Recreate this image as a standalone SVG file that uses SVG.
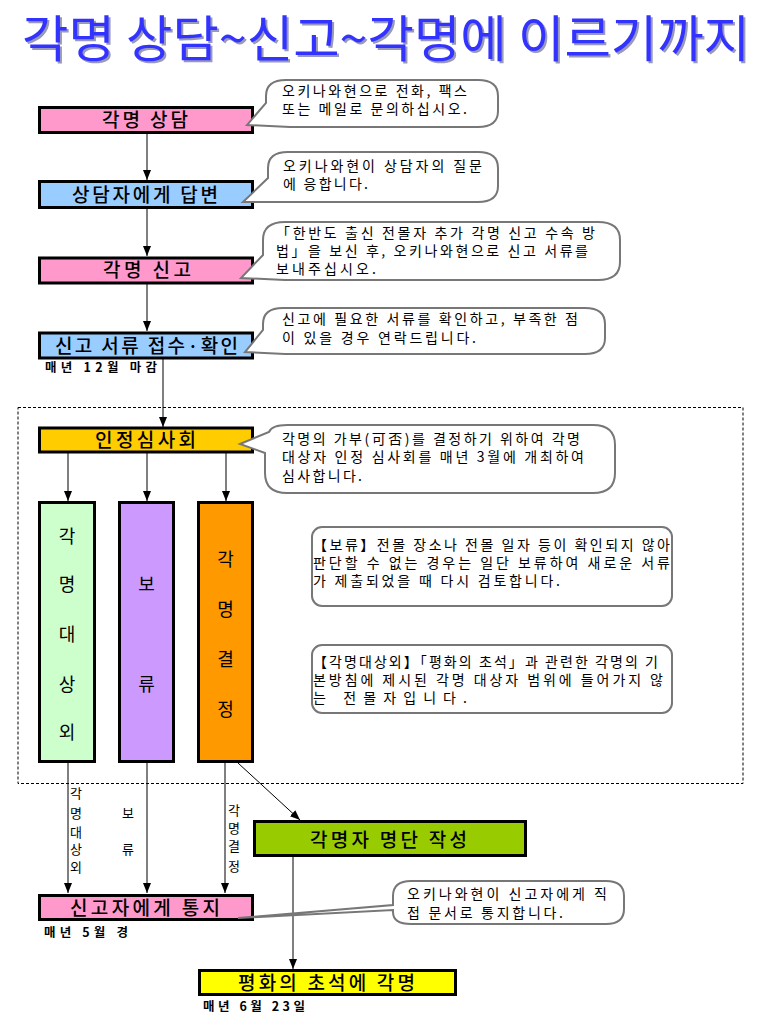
<svg xmlns="http://www.w3.org/2000/svg" width="781" height="1033" viewBox="0 0 781 1033">
<style>
.bx{stroke:#000;stroke-width:3}
.bt{font-family:"Noto Sans CJK KR","Liberation Sans",sans-serif;font-size:19px;font-weight:500;fill:#000}
.vt{font-family:"Noto Sans CJK KR","Liberation Sans",sans-serif;font-size:18px;fill:#000;text-anchor:middle}
.ct{font-family:"Noto Sans CJK KR","Liberation Sans",sans-serif;font-size:14px;fill:#000}
.lt{font-family:"Noto Sans CJK KR","Liberation Sans",sans-serif;font-size:13px;fill:#000;text-anchor:middle}
.nt{font-family:"Noto Sans CJK KR","Liberation Sans",sans-serif;font-size:12.5px;font-weight:bold;fill:#000}
.bub{fill:#fff;stroke:#777;stroke-width:2}
.cn{stroke:#000;stroke-width:1;fill:none}
.title{font-family:"Noto Sans CJK KR","Liberation Sans",sans-serif;font-size:50px;font-weight:400}
</style>
<defs>
<marker id="ah" markerUnits="userSpaceOnUse" markerWidth="10" markerHeight="10" viewBox="0 0 10 10" refX="10" refY="5" orient="auto">
<path d="M0,1 L10,5 L0,9 Z" fill="#000"/>
</marker>
</defs>
<rect width="781" height="1033" fill="#fff"/>

<g id="title">
<text class="title" x="24" y="59" fill="#9999bb" textLength="728" lengthAdjust="spacingAndGlyphs">각명 상담~신고~각명에 이르기까지</text>
<text class="title" x="22" y="57" fill="#3333ff" textLength="728" lengthAdjust="spacingAndGlyphs">각명 상담~신고~각명에 이르기까지</text>
</g>

<rect id="review-area" x="18" y="407.5" width="725" height="376" fill="none" stroke="#000" stroke-width="1" stroke-dasharray="3,2"/>

<g id="connectors">
<line class="cn" x1="147" y1="134" x2="147" y2="180" marker-end="url(#ah)"/>
<line class="cn" x1="147" y1="209" x2="147" y2="256" marker-end="url(#ah)"/>
<line class="cn" x1="147" y1="284" x2="147" y2="331" marker-end="url(#ah)"/>
<line class="cn" x1="163" y1="359" x2="163" y2="427" marker-end="url(#ah)"/>
<line class="cn" x1="68" y1="453" x2="68" y2="501" marker-end="url(#ah)"/>
<line class="cn" x1="147" y1="453" x2="147" y2="501" marker-end="url(#ah)"/>
<line class="cn" x1="226" y1="453" x2="226" y2="501" marker-end="url(#ah)"/>
<line class="cn" x1="68" y1="763" x2="68" y2="893" marker-end="url(#ah)"/>
<line class="cn" x1="147" y1="763" x2="147" y2="893" marker-end="url(#ah)"/>
<line class="cn" x1="225" y1="763" x2="225" y2="893" marker-end="url(#ah)"/>
<line class="cn" x1="238" y1="763" x2="300" y2="820" marker-end="url(#ah)"/>
<line class="cn" x1="293" y1="857" x2="293" y2="969" marker-end="url(#ah)"/>
<text class="lt" x="76" y="798">각</text>
<text class="lt" x="76" y="818">명</text>
<text class="lt" x="76" y="837">대</text>
<text class="lt" x="76" y="854">상</text>
<text class="lt" x="76" y="872">외</text>
<text class="lt" x="128" y="818">보</text>
<text class="lt" x="128" y="854">류</text>
<text class="lt" x="234" y="815">각</text>
<text class="lt" x="234" y="833">명</text>
<text class="lt" x="234" y="851">결</text>
<text class="lt" x="234" y="871">정</text>
</g>

<g id="n-consult">
<rect class="bx" x="39.5" y="107.5" width="213" height="25" fill="#ff99cc"/>
<text class="bt" x="102" y="127" textLength="86" lengthAdjust="spacing">각명 상담</text>
</g>
<g id="c-consult">
<path class="bub" d="M286,80 H478 Q498,80 498,96 V111 Q498,127 478,127 H290 L247,125 L266,103 V96 Q266,80 286,80 Z"/>
<text class="ct" x="282" y="96" textLength="185" lengthAdjust="spacing">오키나와현으로 전화, 팩스</text>
<text class="ct" x="282" y="114" textLength="185" lengthAdjust="spacing">또는 메일로 문의하십시오.</text>
</g>

<g id="n-answer">
<rect class="bx" x="39.5" y="181.5" width="213" height="26" fill="#99ccff"/>
<text class="bt" x="72" y="201.5" textLength="146" lengthAdjust="spacing">상담자에게 답변</text>
</g>
<g id="c-answer">
<path class="bub" d="M288,152 H478 Q498,152 498,168 V186 Q498,202 478,202 H290 L243,202 L268,178 V168 Q268,152 288,152 Z"/>
<text class="ct" x="283" y="170.5" textLength="199" lengthAdjust="spacing">오키나와현이 상담자의 질문</text>
<text class="ct" x="283" y="188.5" textLength="85" lengthAdjust="spacing">에 응합니다.</text>
</g>

<g id="n-apply">
<rect class="bx" x="39.5" y="258" width="213" height="25" fill="#ff99cc"/>
<text class="bt" x="103" y="277" textLength="88" lengthAdjust="spacing">각명 신고</text>
</g>
<g id="c-apply">
<path class="bub" d="M285,222 H598 Q620,222 620,240 V262 Q620,280 598,280 H285 L241,278 L263,255 V240 Q263,222 285,222 Z"/>
<text class="ct" x="276" y="237.5" textLength="319" lengthAdjust="spacing">「한반도 출신 전몰자 추가 각명 신고 수속 방</text>
<text class="ct" x="276" y="255.5" textLength="312" lengthAdjust="spacing">법」을 보신 후, 오키나와현으로 신고 서류를</text>
<text class="ct" x="276" y="273.5" textLength="100" lengthAdjust="spacing">보내주십시오.</text>
</g>

<g id="n-receive">
<rect class="bx" x="39.5" y="333" width="213" height="25" fill="#99ccff"/>
<text class="bt" x="55" y="352.5" textLength="183" lengthAdjust="spacing">신고 서류 접수·확인</text>
<text class="nt" x="45" y="372" textLength="112" lengthAdjust="spacing">매년 12월 마감</text>
</g>
<g id="c-receive">
<path class="bub" d="M283,308 H585 Q605,308 605,324 V338 Q605,354 585,354 H285 L245,352 L263,330 V324 Q263,308 283,308 Z"/>
<text class="ct" x="282" y="323.5" textLength="296" lengthAdjust="spacing">신고에 필요한 서류를 확인하고, 부족한 점</text>
<text class="ct" x="282" y="342.5" textLength="194" lengthAdjust="spacing">이 있을 경우 연락드립니다.</text>
</g>

<g id="n-review">
<rect class="bx" x="39.5" y="428" width="213" height="24" fill="#ffcc00"/>
<text class="bt" x="95" y="446.5" textLength="101" lengthAdjust="spacing">인정심사회</text>
</g>
<g id="c-review">
<path class="bub" d="M287,425 H593 Q615,425 615,445 V473 Q615,493 593,493 H287 Q265,493 265,473 V453 L240,444 L269,432 Q272,425 287,425 Z"/>
<text class="ct" x="282" y="443.5" textLength="298" lengthAdjust="spacing">각명의 가부(可否)를 결정하기 위하여 각명</text>
<text class="ct" x="282" y="462" textLength="302" lengthAdjust="spacing">대상자 인정 심사회를 매년 3월에 개최하여</text>
<text class="ct" x="282" y="480.5" textLength="80" lengthAdjust="spacing">심사합니다.</text>
</g>

<g id="n-excluded">
<rect class="bx" x="39.5" y="502.5" width="55" height="259" fill="#ccffcc"/>
<text class="vt" x="67" y="543">각</text>
<text class="vt" x="67" y="591">명</text>
<text class="vt" x="67" y="641">대</text>
<text class="vt" x="67" y="691">상</text>
<text class="vt" x="67" y="739">외</text>
</g>
<g id="n-hold">
<rect class="bx" x="119.5" y="502.5" width="54" height="259" fill="#cc99ff"/>
<text class="vt" x="146.5" y="591">보</text>
<text class="vt" x="146.5" y="691">류</text>
</g>
<g id="n-decide">
<rect class="bx" x="198.5" y="502.5" width="54" height="259" fill="#ff9900"/>
<text class="vt" x="225.5" y="566">각</text>
<text class="vt" x="225.5" y="616">명</text>
<text class="vt" x="225.5" y="666">결</text>
<text class="vt" x="225.5" y="716">정</text>
</g>

<g id="note-hold">
<rect class="bub" x="312" y="527" width="360" height="79" rx="10"/>
<text class="ct" x="313" y="550" textLength="357" lengthAdjust="spacing">【보류】전몰 장소나 전몰 일자 등이 확인되지 않아</text>
<text class="ct" x="313" y="568" textLength="357" lengthAdjust="spacing">판단할 수 없는 경우는 일단 보류하여 새로운 서류</text>
<text class="ct" x="313" y="586" textLength="247" lengthAdjust="spacing">가 제출되었을 때 다시 검토합니다.</text>
</g>
<g id="note-excluded">
<rect class="bub" x="312" y="645" width="360" height="68" rx="10"/>
<text class="ct" x="313" y="667" textLength="345" lengthAdjust="spacing">【각명대상외】「평화의 초석」과 관련한 각명의 기</text>
<text class="ct" x="313" y="685" textLength="350" lengthAdjust="spacing">본방침에 제시된 각명 대상자 범위에 들어가지 않</text>
<text class="ct" x="313" y="703" textLength="154" lengthAdjust="spacing">는 전몰자입니다.</text>
</g>

<g id="n-list">
<rect class="bx" x="254.5" y="821.5" width="271" height="34" fill="#99cc00"/>
<text class="bt" x="310" y="846.5" textLength="157" lengthAdjust="spacing">각명자 명단 작성</text>
</g>

<g id="n-notify">
<rect class="bx" x="39.5" y="895.5" width="213" height="24" fill="#ff99cc"/>
<text class="bt" x="70" y="914.5" textLength="150" lengthAdjust="spacing">신고자에게 통지</text>
<text class="nt" x="44" y="937" textLength="84" lengthAdjust="spacing">매년 5월 경</text>
</g>
<g id="c-notify">
<path class="bub" d="M411,881 H606 Q624,881 624,896 V909 Q624,924 606,924 H411 Q393,924 393,912 V910 L238,918 L393,905 V896 Q393,881 411,881 Z"/>
<text class="ct" x="407" y="898.5" textLength="200" lengthAdjust="spacing">오키나와현이 신고자에게 직</text>
<text class="ct" x="407" y="917.5" textLength="156" lengthAdjust="spacing">접 문서로 통지합니다.</text>
</g>

<g id="n-inscribe">
<rect class="bx" x="199.5" y="970.5" width="256" height="24" fill="#ffff00"/>
<text class="bt" x="238" y="989.5" textLength="177" lengthAdjust="spacing">평화의 초석에 각명</text>
<text class="nt" x="203" y="1011" textLength="102" lengthAdjust="spacing">매년 6월 23일</text>
</g>
</svg>
